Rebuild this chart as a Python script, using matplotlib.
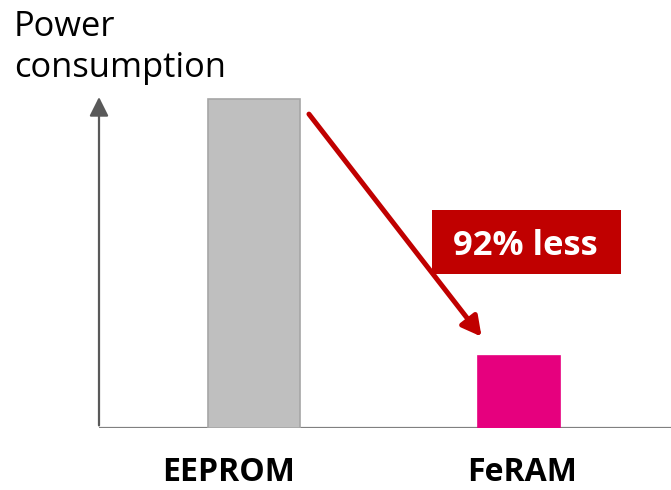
import matplotlib

matplotlib.use("Agg")
import matplotlib.pyplot as plt
from matplotlib.patches import Rectangle

categories = ["EEPROM", "FeRAM"]
power = [100, 22]
bar_colors = ["#bfbfbf", "#e6007e"]
bar_edges = ["#a6a6a6", "#e6007e"]
bar_widths = [0.347, 0.309]
label_offsets = [-0.096, 0.011]
reduction_label = "92% less"
y_label_lines = ["Power", "consumption"]

RED = "#c00000"

fig = plt.figure(figsize=(6.71, 4.90), dpi=100)
ax = fig.add_axes([99 / 671, 62 / 490, 572 / 671, 331 / 490])
ax.set_xlim(-0.585, 1.574)
ax.set_ylim(0, 100.6)
ax.axis("off")

x = list(range(len(categories)))
ax.bar(x, power, width=bar_widths, color=bar_colors, edgecolor=bar_edges, linewidth=1.2, zorder=2)

# axes: plain baseline and an arrow for the y axis
ax.plot([-0.585, 1.574], [0, 0], color="#808080", lw=1.6, solid_capstyle="butt", zorder=1)
ax.annotate(
    "", xy=(-0.585, 100.6), xytext=(-0.585, 0.8),
    arrowprops=dict(arrowstyle="-|>,head_length=0.58,head_width=0.29", mutation_scale=20,
                    color="#595959", lw=1.6, shrinkA=0, shrinkB=0),
    annotation_clip=False,
)

# category labels
for xi, off, name in zip(x, label_offsets, categories):
    ax.text(xi + off, -16.1, name, ha="center", va="baseline",
            fontsize=23, fontweight="bold", family="Open Sans")

# reduction arrow and callout
ax.annotate(
    "", xy=(0.859, 27.75), xytext=(0.2075, 95.4),
    arrowprops=dict(arrowstyle="-|>,head_length=0.58,head_width=0.31", mutation_scale=20,
                    color=RED, lw=3.6, shrinkA=0, shrinkB=0),
    annotation_clip=False,
)
ax.add_patch(Rectangle((0.672, 46.7), 1.387 - 0.672, 66.3 - 46.7, facecolor=RED,
                       edgecolor="none", zorder=3))
ax.text(1.0226, 52.6, reduction_label, ha="center", va="baseline", color="white",
        fontsize=24.8, fontweight="bold", family="Open Sans", zorder=4)

# axis title, top left
fig.text(14 / 671, 1 - 36 / 490, y_label_lines[0], ha="left", va="baseline",
         fontsize=24.8, family="Open Sans")
fig.text(14 / 671, 1 - 77 / 490, y_label_lines[1], ha="left", va="baseline",
         fontsize=24.8, family="Open Sans")

fig.savefig("out.png", dpi=100)
